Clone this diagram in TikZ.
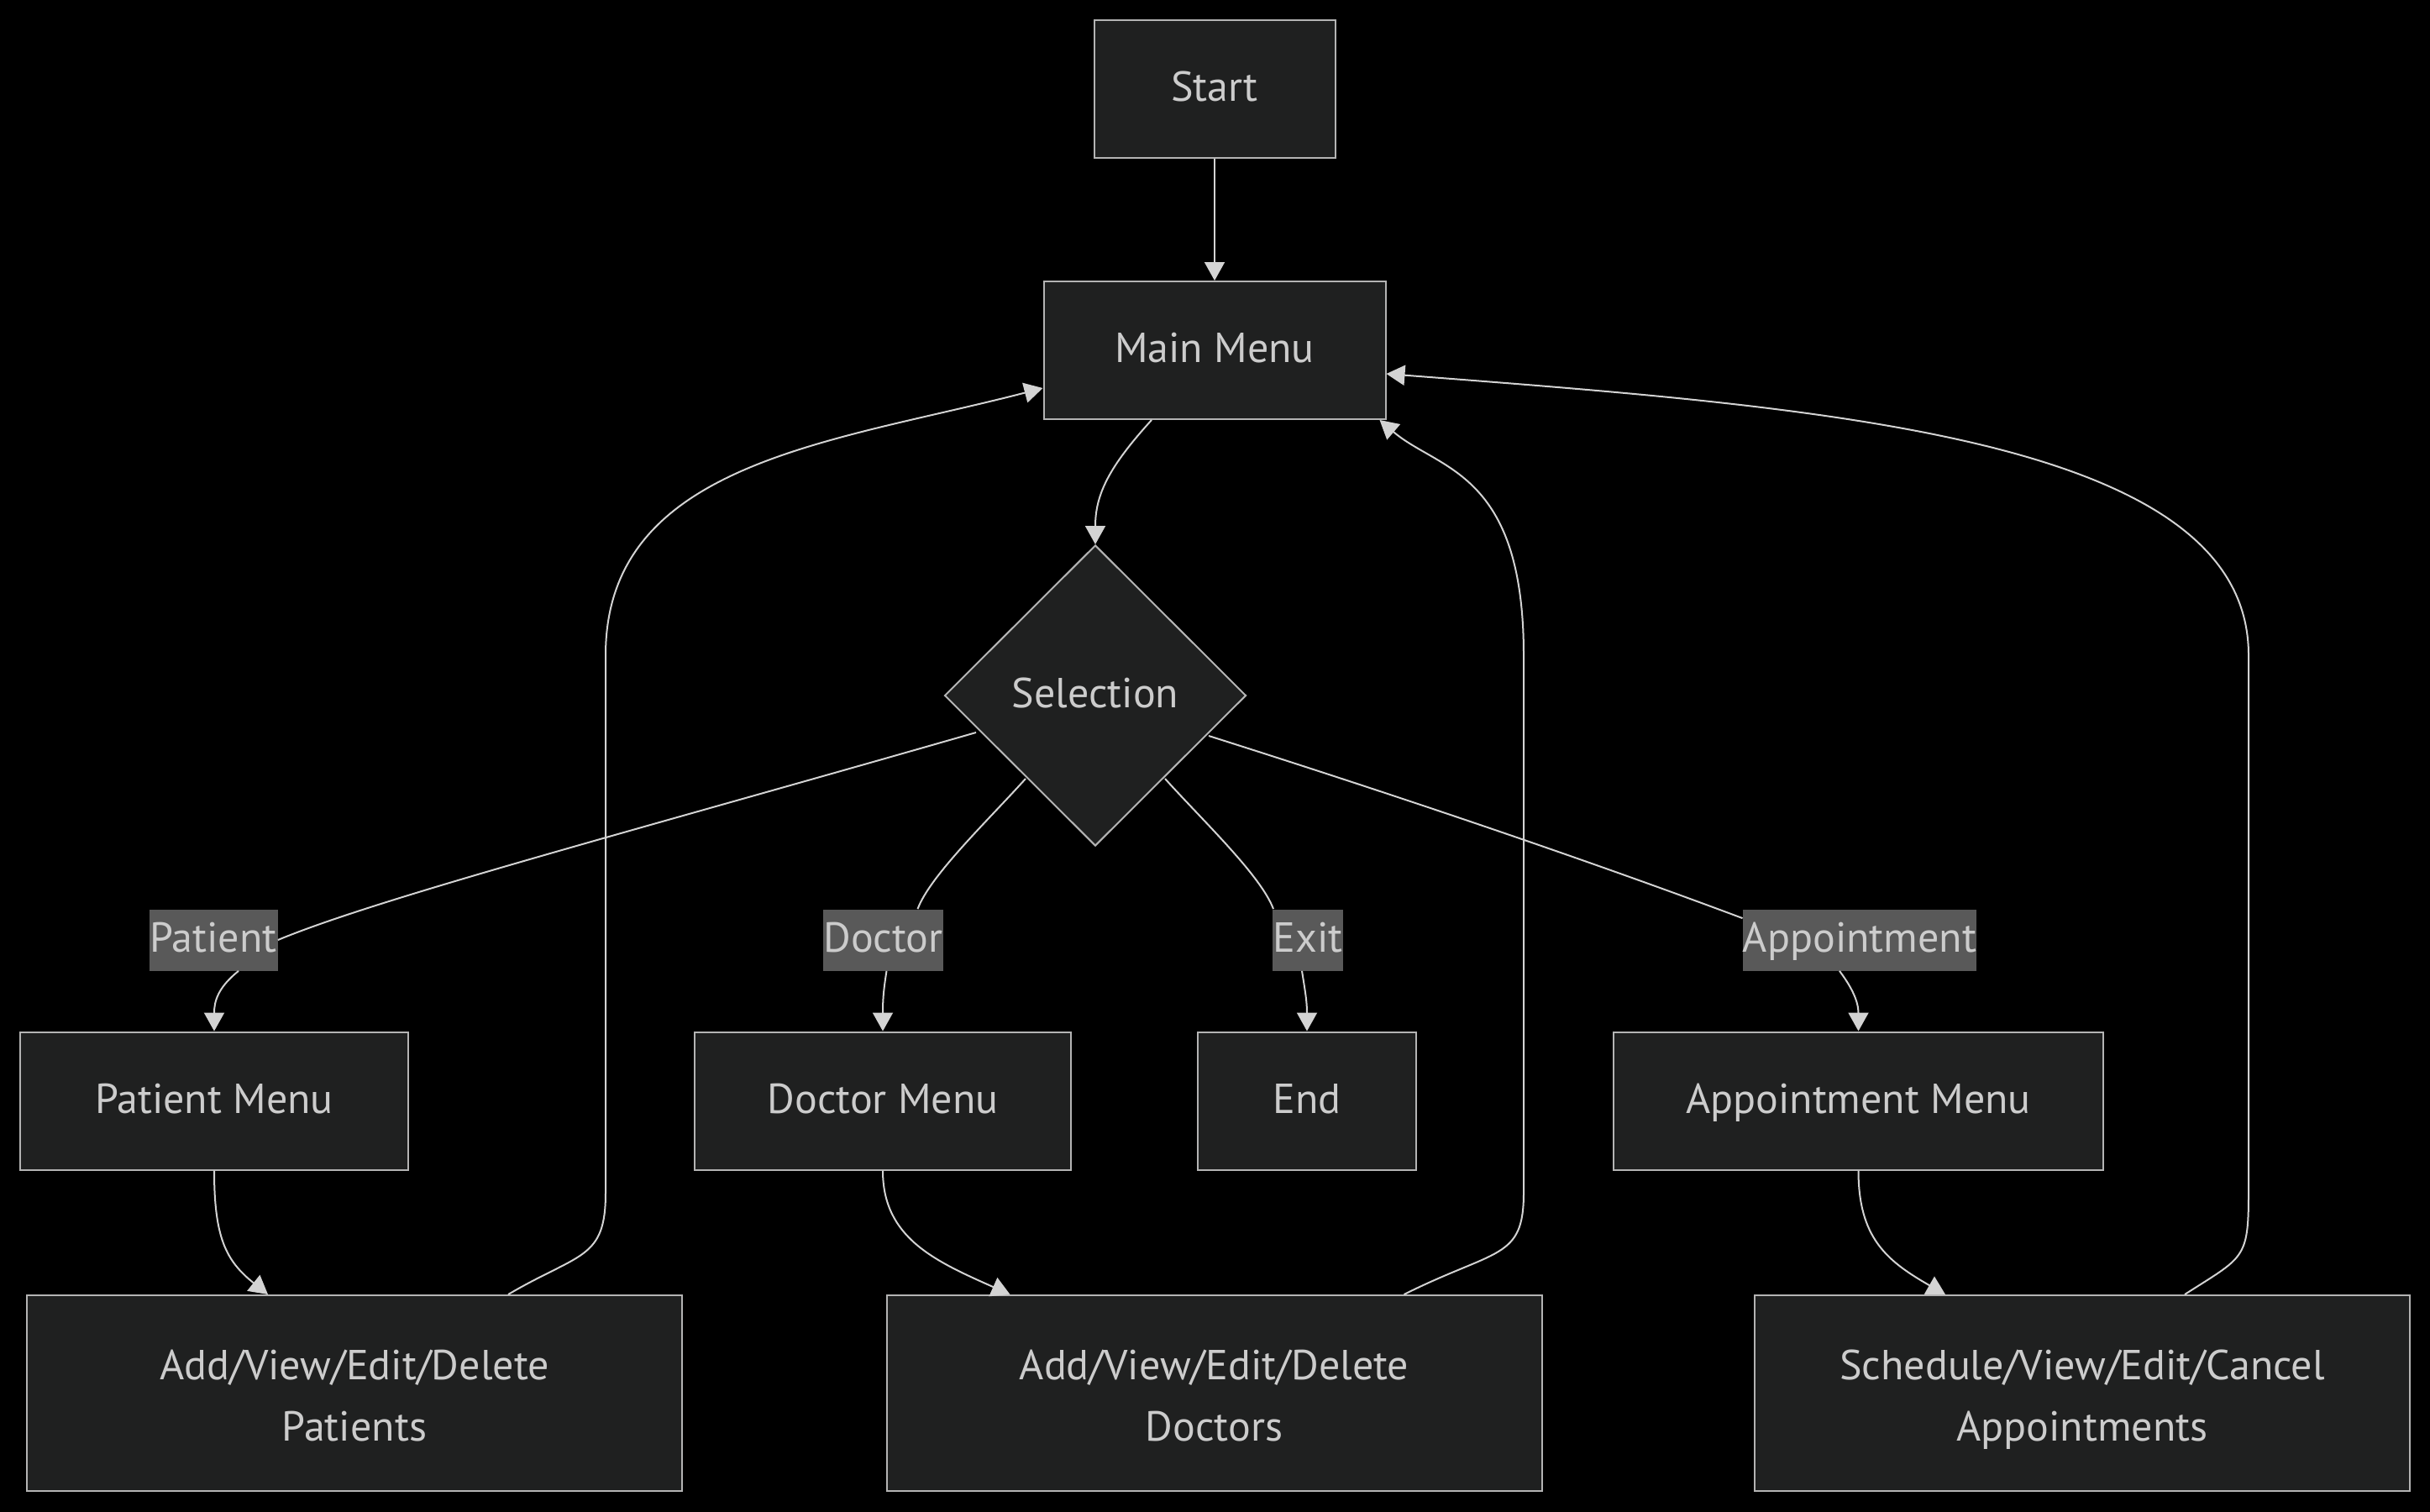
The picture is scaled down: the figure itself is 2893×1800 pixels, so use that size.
\documentclass[tikz,border=0pt]{standalone}
\usepackage{fontspec}
\setmainfont{PT Sans}
\usetikzlibrary{shapes.geometric,arrows.meta,calc}
\definecolor{nodefill}{HTML}{1F2020}
\definecolor{nodeline}{HTML}{B4B4B4}
\definecolor{txt}{HTML}{CCCCCC}
\definecolor{linec}{HTML}{D3D3D3}
\definecolor{labfill}{HTML}{595959}
% taller first-line strut for the two-line boxes
\newcommand{\tallstrut}{\rule{0pt}{31pt}}
\begin{document}
\begin{tikzpicture}[x=0.5pt,y=-0.5pt,
  every node/.style={text=txt,font=\fontsize{25}{36.5}\selectfont,
    execute at begin node=\strut,execute at end node=\strut},
  box/.style={draw=nodeline,fill=nodefill,line width=1pt,inner sep=0pt,align=center,minimum height=82pt},
  bigbox/.style={box,minimum width=390pt,minimum height=116.5pt},
  lab/.style={fill=labfill,inner sep=0pt,minimum height=36pt},
  ln/.style={draw=linec,line width=1pt},
  arr/.style={ln,-{Triangle[length=11pt,width=12pt]}}]
% canvas
\fill[black] (0,0) rectangle (2893,1800);
\useasboundingbox (0,0) rectangle (2893,1800);

% nodes
\node[box,minimum width=143.5pt] (start) at (1446,106) {Start};
\node[box,minimum width=203.5pt] (main) at (1446,417) {Main Menu};
\node[draw=nodeline,fill=nodefill,line width=1pt,diamond,aspect=1,inner sep=0pt,
      minimum width=179.5pt,minimum height=179pt] (sel) at (1304,828) {Selection};

\node[lab,minimum width=76.5pt] (plab) at (254,1119) {Patient};
\node[lab,minimum width=70.5pt] (dlab) at (1051.5,1119) {Doctor};
\node[lab,minimum width=42pt] (xlab) at (1557,1119) {Exit};
\node[lab,minimum width=138pt] (alab) at (2214,1119) {Appointment};

\node[box,minimum width=231pt] (pmenu) at (255,1310.5) {Patient Menu};
\node[box,minimum width=224pt] (dmenu) at (1051,1310.5) {Doctor Menu};
\node[box,minimum width=130pt] (endn) at (1556,1310.5) {End};
\node[box,minimum width=291.5pt] (amenu) at (2212.5,1310.5) {Appointment Menu};

\node[bigbox] (pbox) at (422,1658.5) {\tallstrut Add/View/Edit/Delete\\Patients};
\node[bigbox] (dbox) at (1445.5,1658.5) {\tallstrut Add/View/Edit/Delete\\Doctors};
\node[bigbox] (abox) at (2479,1658.5) {\tallstrut Schedule/View/Edit/Cancel\\Appointments};

% connectors
\draw[arr] (start.south) -- (main.north);
\draw[arr] ($(main.south)+(-75,0)$) .. controls +(-50,55) and +(0,-60) .. (sel.north);

\draw[ln] ($(sel)+(-142,44)$) .. controls +(-400,115) and +(120,-50) .. (plab.east);
\draw[arr] ($(plab.south)+(30,0)$) .. controls +(-25,20) and +(0,-35) .. (pmenu.north);

\draw[ln] ($(sel)+(-83,99)$) .. controls +(-45,50) and +(15,-40) .. ($(dlab.north)+(41,0)$);
\draw[arr] ($(dlab.south)+(4,0)$) .. controls +(-4,25) and +(0,-35) .. (dmenu.north);

\draw[ln] ($(sel)+(83,99)$) .. controls +(45,50) and +(-15,-40) .. ($(xlab.north)+(-41,0)$);
\draw[arr] ($(xlab.south)+(-7,0)$) .. controls +(4,25) and +(0,-35) .. (endn.north);

\draw[ln] ($(sel)+(135,48)$) .. controls +(300,95) and +(-120,-45) .. ($(alab.north west)+(0,11)$);
\draw[arr] ($(alab.south)+(-24,0)$) .. controls +(15,20) and +(0,-35) .. (amenu.north);

\draw[arr] (pmenu.south) .. controls +(0,80) and +(-50,-40) .. ($(pbox.north)+(-103,0)$);
\draw[arr] (dmenu.south) .. controls +(0,80) and +(-90,-40) .. ($(dbox.north)+(-243,0)$);
\draw[arr] (amenu.south) .. controls +(0,80) and +(-70,-40) .. ($(abox.north)+(-163,0)$);

% loops back to the main menu
\draw[arr] ($(pbox.north)+(183,0)$) .. controls +(85,-50) and +(0,80) .. (721,1420)
  -- (721,780) .. controls +(0,-230) and +(-250,65) .. ($(main.west)+(0,45)$);
\draw[arr] ($(dbox.north)+(226,0)$) .. controls +(110,-55) and +(0,80) .. (1814,1420)
  -- (1814,780) .. controls +(0,-220) and +(70,60) .. ($(main.south east)+(-8,0)$);
\draw[arr] ($(abox.north)+(122,0)$) .. controls +(70,-45) and +(0,80) .. (2677,1420)
  -- (2677,780) .. controls +(0,-260) and +(520,40) .. ($(main.east)+(0,28)$);
\end{tikzpicture}
\end{document}
